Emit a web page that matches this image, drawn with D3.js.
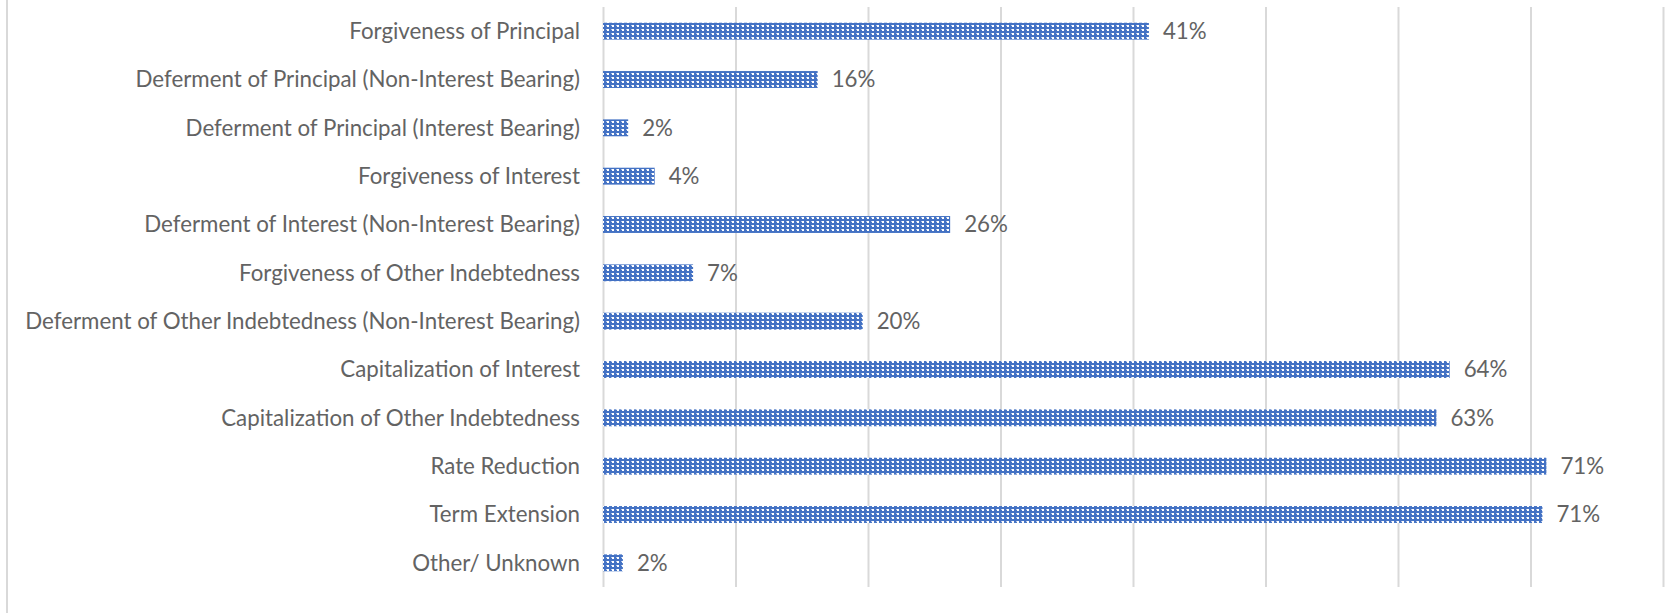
<!DOCTYPE html>
<html>
<head>
<meta charset="utf-8">
<script src="https://cdn.jsdelivr.net/npm/d3@7"></script>
<style>
  html, body { margin: 0; padding: 0; background: #ffffff; }
  svg { display: block; }
</style>
</head>
<body>
<svg id="chart" width="1679" height="613"></svg>
<script>
// ---- data ----
const categories = [
  "Forgiveness of Principal",
  "Deferment of Principal (Non-Interest Bearing)",
  "Deferment of Principal (Interest Bearing)",
  "Forgiveness of Interest",
  "Deferment of Interest (Non-Interest Bearing)",
  "Forgiveness of Other Indebtedness",
  "Deferment of Other Indebtedness (Non-Interest Bearing)",
  "Capitalization of Interest",
  "Capitalization of Other Indebtedness",
  "Rate Reduction",
  "Term Extension",
  "Other/ Unknown"
];
const values = [0.412, 0.162, 0.019, 0.039, 0.262, 0.068, 0.196, 0.639, 0.629, 0.712, 0.709, 0.015];
const tickValues = [0, 0.1, 0.2, 0.3, 0.4, 0.5, 0.6, 0.7, 0.8];

// ---- layout ----
const W = 1679, H = 613;
const plot = { left: 603, right: 1663, top: 7, bottom: 587 };
const labelRight = 580;
const textColor = "#636363";
const gridColor = "#d9d9d9";
const barColor = "#4472C4";
const fontFamily = "Lato, 'Open Sans', 'Noto Sans', sans-serif";

const svg = d3.select("#chart");

// pattern fill (dotted grid)
const defs = svg.append("defs");
const pat = defs.append("pattern")
  .attr("id", "dotgrid")
  .attr("patternUnits", "userSpaceOnUse")
  .attr("width", 5).attr("height", 4);
pat.append("rect").attr("width", 5).attr("height", 4).attr("fill", barColor);
pat.append("rect").attr("x", 2).attr("y", 1).attr("width", 2).attr("height", 2).attr("fill", "#ffffff");
pat.append("rect").attr("x", 1).attr("y", 1).attr("width", 1).attr("height", 1).attr("fill", "#b4c7e7");

// left chart border
svg.append("line")
  .attr("x1", 7).attr("x2", 7).attr("y1", 0).attr("y2", H)
  .attr("stroke", gridColor).attr("stroke-width", 2);

const x = d3.scaleLinear().domain([0, 0.8]).range([plot.left, plot.right]);
const y = d3.scaleBand().domain(categories).range([plot.top, plot.bottom])
  .paddingInner(0.65).paddingOuter(0.325);

// gridlines via axis
const gridAxis = d3.axisBottom(x).tickValues(tickValues)
  .tickSize(-(plot.bottom - plot.top)).tickFormat("");
const g = svg.append("g")
  .attr("transform", `translate(0,${plot.bottom})`)
  .call(gridAxis);
g.select(".domain").remove();
g.selectAll(".tick line").attr("stroke", gridColor).attr("stroke-width", 2);

// determine font size to fit label widths
const probe = svg.append("text").attr("font-family", fontFamily).attr("font-size", 20)
  .text("Deferment of Other Indebtedness (Non-Interest Bearing)");
const probeW = probe.node().getComputedTextLength();
probe.remove();
let fontSize = 20 * 555 / probeW;
fontSize = Math.max(16, Math.min(24, fontSize));

// bars
svg.append("g").selectAll("rect")
  .data(values)
  .join("rect")
  .attr("x", x(0))
  .attr("y", (d, i) => y(categories[i]))
  .attr("width", d => x(d) - x(0))
  .attr("height", y.bandwidth())
  .attr("fill", "url(#dotgrid)");

// category labels (y axis)
const yAxis = d3.axisLeft(y).tickSize(0).tickPadding(0);
const ya = svg.append("g").attr("transform", `translate(${labelRight},0)`).call(yAxis);
ya.select(".domain").remove();
ya.selectAll(".tick text")
  .attr("font-family", fontFamily)
  .attr("font-size", fontSize)
  .attr("fill", textColor)
  .attr("dy", "0.35em");

// value labels
svg.append("g").selectAll("text")
  .data(values)
  .join("text")
  .attr("x", d => x(d) + 14)
  .attr("y", (d, i) => y(categories[i]) + y.bandwidth() / 2)
  .attr("dy", "0.35em")
  .attr("font-family", fontFamily)
  .attr("font-size", fontSize)
  .attr("fill", textColor)
  .text(d => d3.format(".0%")(d));
</script>
</body>
</html>
